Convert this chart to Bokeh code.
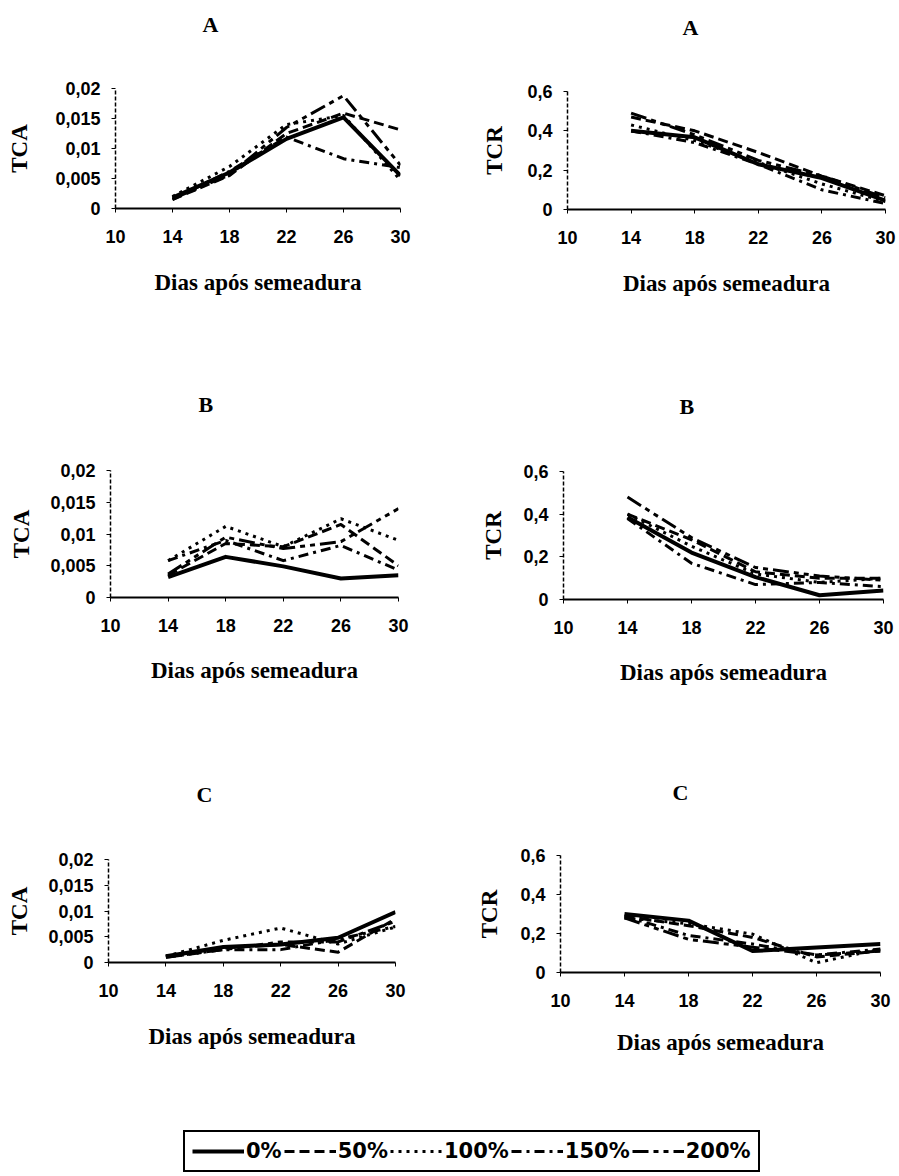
from bokeh.plotting import figure
from bokeh.models import Range1d, FixedTicker, CustomJSTickFormatter, Legend, LegendItem, LinearAxis, Title
from bokeh.layouts import column, row
from bokeh.embed import file_html
from bokeh.resources import INLINE

# ---------------- data ----------------
dias = [14, 18, 22, 26, 30]
doses = ["0%", "50%", "100%", "150%", "200%"]
x_ticks = [10, 14, 18, 22, 26, 30]
tca_ticks = [0, 0.005, 0.01, 0.015, 0.02]
tcr_ticks = [0, 0.2, 0.4, 0.6]

# A - TCA
tca_A_0 = [0.0018, 0.0060, 0.0116, 0.0152, 0.0055]
tca_A_50 = [0.0015, 0.0055, 0.0125, 0.0159, 0.0131]
tca_A_100 = [0.0020, 0.0070, 0.0140, 0.0155, 0.0047]
tca_A_150 = [0.0015, 0.0062, 0.0119, 0.0083, 0.0068]
tca_A_200 = [0.0016, 0.0056, 0.0135, 0.0188, 0.0072]
# A - TCR
tcr_A_0 = [0.40, 0.367, 0.23, 0.16, 0.045]
tcr_A_50 = [0.47, 0.40, 0.29, 0.17, 0.07]
tcr_A_100 = [0.43, 0.35, 0.24, 0.13, 0.04]
tcr_A_150 = [0.40, 0.34, 0.23, 0.10, 0.03]
tcr_A_200 = [0.49, 0.38, 0.25, 0.17, 0.06]
# B - TCA
tca_B_0 = [0.0032, 0.0064, 0.0049, 0.0030, 0.0035]
tca_B_50 = [0.0035, 0.0085, 0.0080, 0.0115, 0.0050]
tca_B_100 = [0.0058, 0.0112, 0.0080, 0.0124, 0.0090]
tca_B_150 = [0.0058, 0.0090, 0.0058, 0.0082, 0.0043]
tca_B_200 = [0.0037, 0.0095, 0.0077, 0.0088, 0.0140]
# B - TCR
tcr_B_0 = [0.386, 0.22, 0.105, 0.02, 0.042]
tcr_B_50 = [0.40, 0.28, 0.13, 0.10, 0.10]
tcr_B_100 = [0.40, 0.25, 0.12, 0.08, 0.10]
tcr_B_150 = [0.38, 0.17, 0.07, 0.08, 0.06]
tcr_B_200 = [0.48, 0.29, 0.15, 0.11, 0.09]
# C - TCA
tca_C_0 = [0.0012, 0.0030, 0.0035, 0.0048, 0.0098]
tca_C_50 = [0.0012, 0.0028, 0.0035, 0.0020, 0.0085]
tca_C_100 = [0.0012, 0.0043, 0.0067, 0.0036, 0.0069]
tca_C_150 = [0.0010, 0.0025, 0.0025, 0.0045, 0.0070]
tca_C_200 = [0.0010, 0.0025, 0.0040, 0.0040, 0.0080]
# C - TCR
tcr_C_0 = [0.30, 0.266, 0.11, 0.128, 0.146]
tcr_C_50 = [0.29, 0.24, 0.18, 0.08, 0.11]
tcr_C_100 = [0.28, 0.25, 0.197, 0.05, 0.12]
tcr_C_150 = [0.29, 0.19, 0.146, 0.09, 0.12]
tcr_C_200 = [0.28, 0.17, 0.13, 0.09, 0.11]

# ---------------- styles ----------------
dashes = ["solid", "10 5", "3 5", "10 5 3 5", "16 5 5 5 5 5"]
widths = [4, 3, 3, 3, 3]

SERIF = "Liberation Serif"
SANS = "Liberation Sans"

fmt_code = "return tick.toFixed(3).replace(/\\.?0+$/, '').replace('.', ',');"


def panel(title, ylabel, series, ymax, yticks, geo, title_pos, ystand, xstand):
    w, h, mbl, mbr, mbt, mbb = geo
    p = figure(width=w, height=h, min_border_left=mbl, min_border_right=mbr,
               min_border_top=mbt, min_border_bottom=mbb, title=None,
               x_range=Range1d(10, 30), y_range=Range1d(0, ymax),
               toolbar_location=None, output_backend="svg",
               background_fill_color="white", border_fill_color="white")
    if "frame_align" in p.properties():
        p.frame_align = False
    p.outline_line_color = None
    p.grid.visible = False
    for ys, d, lw in zip(series, dashes, widths):
        p.line(dias, ys, line_color="black", line_width=lw, line_dash=d,
               line_join="round", line_cap="butt")
    # axes
    p.xaxis.ticker = FixedTicker(ticks=x_ticks, minor_ticks=[])
    p.yaxis.ticker = FixedTicker(ticks=yticks, minor_ticks=[])
    p.yaxis.formatter = CustomJSTickFormatter(code=fmt_code)
    for ax in (p.xaxis[0], p.yaxis[0]):
        ax.major_tick_in = 0
        ax.major_tick_out = 4
        ax.major_tick_line_color = "black"
        ax.axis_line_color = "black"
        ax.major_label_text_font = SANS
        ax.major_label_text_font_style = "bold"
        ax.major_label_text_font_size = "18px"
        ax.major_label_text_color = "black"
        ax.axis_label_text_font = SERIF
        ax.axis_label_text_font_style = "bold"
        ax.axis_label_text_font_size = "23px"
        ax.axis_label_text_color = "black"
    p.xaxis.axis_line_width = 2
    p.yaxis.axis_line_width = 1.5
    p.yaxis.axis_line_dash = "4 2"
    p.xaxis.major_label_standoff = 17
    p.yaxis.major_label_standoff = 11
    p.xaxis.axis_label = "Dias após semeadura"
    p.xaxis.axis_label_standoff = xstand
    p.yaxis.axis_label = ylabel
    p.yaxis.axis_label_standoff = ystand
    # invisible spacer axis between the frame and the panel letter
    tx, ty = title_pos  # title centre on the canvas
    spacer = LinearAxis(ticker=FixedTicker(ticks=[10], minor_ticks=[]),
                        formatter=CustomJSTickFormatter(code="return '';"),
                        axis_line_color=None, major_tick_line_color=None,
                        minor_tick_line_color=None, major_tick_in=0,
                        major_tick_out=max(mbt - ty - 11, 0), minor_tick_out=0,
                        minor_tick_in=0, major_label_standoff=0,
                        major_label_text_font_size="1px")
    p.add_layout(spacer, "above")
    # panel letter (outside the spacer)
    t = Title(text=title, align="left", offset=tx - mbl - 8, standoff=0,
              text_font=SERIF, text_font_style="bold", text_font_size="22px",
              text_color="black")
    p.add_layout(t, "above")
    return p


# geometry: width, height, min_border left/right/top/bottom
pA1 = panel("A", "TCA", [tca_A_0, tca_A_50, tca_A_100, tca_A_150, tca_A_200], 0.02, tca_ticks,
            (448, 385, 115, 48, 88, 177), (210, 25), 20, 24)
pA2 = panel("A", "TCR", [tcr_A_0, tcr_A_50, tcr_A_100, tcr_A_150, tcr_A_200], 0.6, tcr_ticks,
            (451, 385, 119, 14, 91, 176), (690 - 448, 28), 17, 24)
pB1 = panel("B", "TCA", [tca_B_0, tca_B_50, tca_B_100, tca_B_150, tca_B_200], 0.02, tca_ticks,
            (448, 385, 110, 50, 85, 173), (206, 20), 13, 23)
pB2 = panel("B", "TCR", [tcr_B_0, tcr_B_50, tcr_B_100, tcr_B_150, tcr_B_200], 0.6, tcr_ticks,
            (451, 385, 115, 16, 86, 171), (687 - 448, 22), 14, 23)
pC1 = panel("C", "TCA", [tca_C_0, tca_C_50, tca_C_100, tca_C_150, tca_C_200], 0.02, tca_ticks,
            (448, 320, 108, 53, 89, 128), (204, 25), 13, 24)
pC2 = panel("C", "TCR", [tcr_C_0, tcr_C_50, tcr_C_100, tcr_C_150, tcr_C_200], 0.6, tcr_ticks,
            (451, 320, 112, 19, 85, 118), (680 - 448, 23), 15, 20)

# ---------------- legend ----------------
pl = figure(width=899, height=86, x_range=Range1d(0, 1), y_range=Range1d(0, 1),
            min_border=0, toolbar_location=None, output_backend="svg",
            x_axis_location=None, y_axis_location=None)
pl.outline_line_color = None
pl.grid.visible = False
items = []
for lab, d, lw in zip(doses, dashes, widths):
    r = pl.line(x=[-5, -4], y=[-5, -4], line_color="black", line_width=lw, line_dash=d)
    items.append(LegendItem(label=lab, renderers=[r]))
leg = Legend(items=items, orientation="horizontal", location=(183, 4),
             border_line_color="black", border_line_width=2, border_line_alpha=1,
             glyph_width=52, glyph_height=20, label_standoff=2, spacing=2, padding=7,
             label_text_font="DejaVu Sans", label_text_font_style="bold",
             label_text_font_size="21px", label_height=21, label_text_color="black",
             background_fill_color="white", background_fill_alpha=1)
pl.add_layout(leg)

layout = column(row(pA1, pA2), row(pB1, pB2), row(pC1, pC2), pl)

open("out.html", "w").write(file_html(layout, INLINE))
